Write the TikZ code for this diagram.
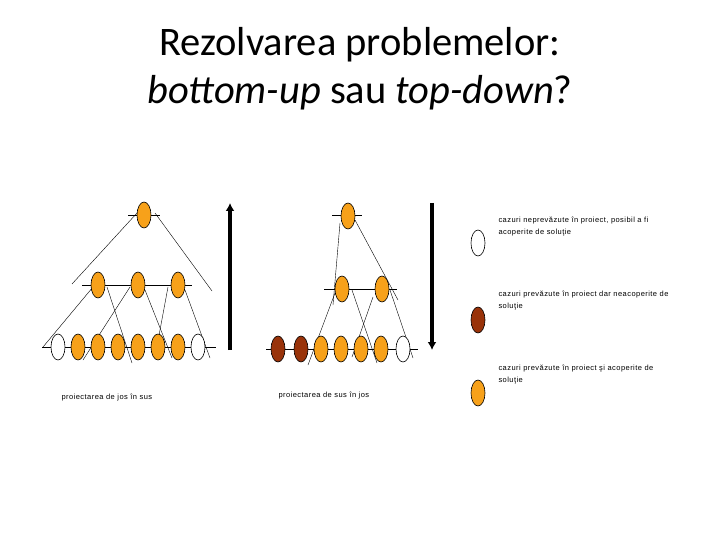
\documentclass[tikz,border=0pt]{standalone}
\usepackage{fontspec}
\setmainfont{Carlito}
\newfontfamily\smallf[LetterSpace=6]{Liberation Sans}
\definecolor{orng}{HTML}{F7A11A}
\definecolor{brwn}{HTML}{99330A}
\begin{document}
\begin{tikzpicture}[x=1pt,y=-1pt,
  cas/.style={ellipse,draw=black,semithick,minimum width=14pt,minimum height=26pt,inner sep=0pt},
  ok/.style={cas,fill=orng}, no/.style={cas,fill=brwn}, nw/.style={cas,fill=white},
  ln/.style={thin}, dg/.style={thin},
  lab/.style={font=\smallf\fontsize{7.5}{12.5}\selectfont,anchor=north west,align=left},
  big/.style={line width=4pt,-{Latex[length=8pt,width=9pt]}}]
\usetikzlibrary{shapes.geometric,arrows.meta}
\useasboundingbox (0,0) rectangle (720,540);
\node[font=\fontsize{40.5}{48}\selectfont,align=center] (title) at (360,69) {Rezolvarea problemelor:\\\textit{bottom-up} sau \textit{top-down}?};
% left tree lines
\draw[ln] (128,215) -- (160,215);
\draw[ln] (82,285) -- (192,285);
\draw[ln] (42,347) -- (216,347);
\draw[dg] (137,213) -- (72,284); \draw[dg] (155,213) -- (212,291);
\draw[dg] (93,287) -- (43,347); \draw[dg] (107,287) -- (132,363);
\draw[dg] (130,287) -- (83,360); \draw[dg] (145,290) -- (172,358);
\draw[dg] (168,287) -- (155,357); \draw[dg] (185,290) -- (210,358);
\node[ok] (l0) at (144,215) {};
\node[ok] (l1) at (98,285) {}; \node[ok] (l2) at (138,285) {}; \node[ok] (l3) at (178,285) {};
\node[nw] (b1) at (58,347) {};
\foreach \x/\n in {78/b2,98/b3,118/b4,138/b5,158/b6,178/b7} \node[ok] (\n) at (\x,347) {};
\node[nw] (b8) at (198,347) {};
\coordinate (a1s) at (230,350); \coordinate (a1e) at (230,203);
\draw[big] (a1s) -- (a1e);
% right tree
\draw[ln] (332,215) -- (362,215);
\draw[ln] (324,289) -- (397,289);
\draw[ln] (266,349) -- (418,349);
\draw[dg] (340,223) -- (333,305); \draw[dg] (355,220) -- (398,300);
\draw[dg] (335,293) -- (308,365); \draw[dg] (352,290) -- (377,363);
\draw[dg] (373,297) -- (352,357); \draw[dg] (390,290) -- (413,358);
\node[ok] (r0) at (348,216) {};
\node[ok] (r1) at (342,289) {}; \node[ok] (r2) at (382,289) {};
\node[no] (c1) at (278,349) {}; \node[no] (c2) at (301,349) {};
\foreach \x/\n in {321/c3,341/c4,361/c5,381/c6} \node[ok] (\n) at (\x,349) {};
\node[nw] (c7) at (403,349) {};
\coordinate (a2s) at (432,203); \coordinate (a2e) at (432,350);
\draw[big] (a2s) -- (a2e);
\node[lab] (t1) at (58,391) {proiectarea de jos în sus};
\node[lab] (t2) at (275,389) {proiectarea de sus în jos};
% legend
\node[nw] (g1) at (478,243) {};
\node[no] (g2) at (478,320) {};
\node[ok] (g3) at (478,393) {};
\node[lab,text width=165pt] (g1t) at (495,213) {cazuri neprevăzute în proiect, posibil a fi acoperite de soluţie};
\node[lab,text width=190pt] (g2t) at (495,287) {cazuri prevăzute în proiect dar neacoperite de soluţie};
\node[lab,text width=165pt] (g3t) at (495,361) {cazuri prevăzute în proiect şi acoperite de soluţie};
\end{tikzpicture}
\end{document}
